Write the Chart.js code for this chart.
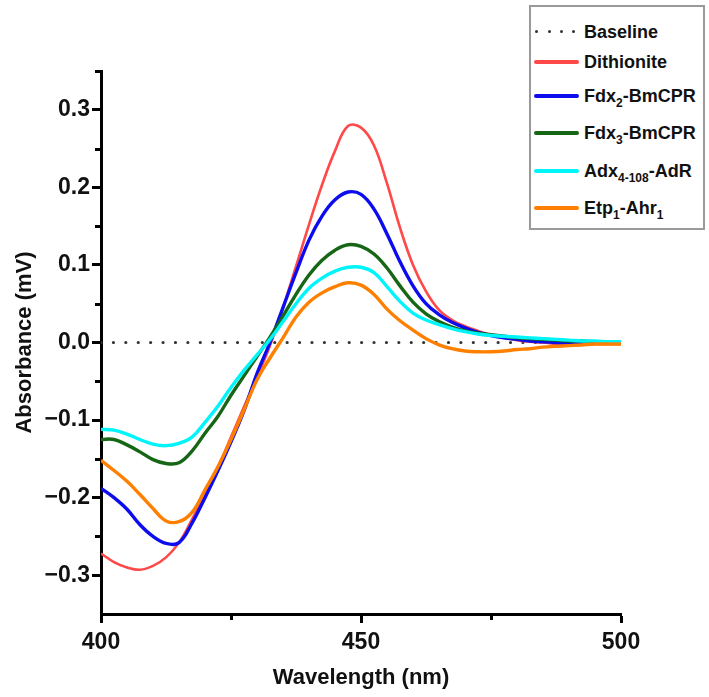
<!DOCTYPE html>
<html>
<head>
<meta charset="utf-8">
<script src="https://cdn.jsdelivr.net/npm/chart.js@4/dist/chart.umd.min.js"></script>
<style>
  html, body { margin: 0; padding: 0; background: #ffffff; }
  #wrap { position: relative; width: 709px; height: 697px; }
  #legend {
    position: absolute; left: 529px; top: 5px; width: 172px; height: 221px;
    border: 2px solid #9a9a9a; background: #ffffff;
    font-family: 'Liberation Sans', Arial, sans-serif; font-weight: bold; font-size: 18px; color: #111;
  }
  .row { position: absolute; left: 0; height: 24px; width: 172px; }
  .sample { position: absolute; left: 3px; top: 10px; width: 45px; height: 4px; border-radius: 2px; }
  .dots { position: absolute; left: 2px; top: 10px; width: 48px; height: 4px; }
  .dot { position: absolute; top: 0; width: 3px; height: 3px; border-radius: 50%; background: #333; }
  .txt { position: absolute; left: 53px; top: 2px; line-height: 20px; white-space: nowrap; }
  .txt sub { font-size: 12px; vertical-align: -5px; line-height: 0; }
</style>
</head>
<body>
<div id="wrap">
  <canvas id="c" width="709" height="697"></canvas>
  <div id="legend"></div>
</div>
<script>
// ---- data ----
const wavelengths = [400, 402.5, 405, 407.5, 410, 412.5, 415, 417.5, 420, 422.5, 425, 427.5, 430, 432.5, 435, 437.5, 440, 442.5, 445, 447.5, 450, 452.5, 455, 457.5, 460, 462.5, 465, 467.5, 470, 472.5, 475, 477.5, 480, 482.5, 485, 487.5, 490, 492.5, 495, 497.5, 500];

const dithionite = [-0.272, -0.283, -0.290, -0.293, -0.288, -0.277, -0.258, -0.228, -0.196, -0.161, -0.122, -0.083, -0.045, -0.004, 0.045, 0.098, 0.152, 0.203, 0.247, 0.279, 0.277, 0.254, 0.205, 0.148, 0.100, 0.066, 0.042, 0.029, 0.021, 0.015, 0.010, 0.006, 0.003, 0.001, 0.000, -0.002, -0.003, -0.003, -0.002, -0.002, -0.002];

const fdx2 = [-0.188, -0.200, -0.215, -0.235, -0.250, -0.259, -0.258, -0.233, -0.200, -0.165, -0.128, -0.088, -0.040, 0.000, 0.045, 0.090, 0.132, 0.163, 0.184, 0.194, 0.191, 0.172, 0.140, 0.104, 0.073, 0.050, 0.036, 0.026, 0.019, 0.013, 0.009, 0.006, 0.004, 0.002, 0.001, 0.000, -0.001, -0.001, 0.000, 0.000, 0.000];

const fdx3 = [-0.125, -0.125, -0.132, -0.141, -0.151, -0.156, -0.155, -0.140, -0.117, -0.095, -0.068, -0.043, -0.018, 0.007, 0.034, 0.062, 0.087, 0.106, 0.119, 0.126, 0.124, 0.114, 0.096, 0.073, 0.052, 0.037, 0.027, 0.020, 0.015, 0.012, 0.010, 0.008, 0.006, 0.005, 0.004, 0.003, 0.002, 0.002, 0.001, 0.001, 0.001];

const adx = [-0.112, -0.113, -0.118, -0.125, -0.131, -0.133, -0.130, -0.122, -0.103, -0.082, -0.058, -0.036, -0.016, 0.004, 0.027, 0.050, 0.070, 0.083, 0.092, 0.097, 0.097, 0.090, 0.072, 0.053, 0.038, 0.029, 0.023, 0.018, 0.014, 0.011, 0.009, 0.008, 0.007, 0.006, 0.005, 0.004, 0.003, 0.002, 0.002, 0.001, 0.001];

const etp = [-0.152, -0.165, -0.179, -0.196, -0.214, -0.230, -0.231, -0.219, -0.190, -0.160, -0.125, -0.087, -0.048, -0.020, 0.006, 0.033, 0.052, 0.064, 0.072, 0.077, 0.074, 0.062, 0.043, 0.028, 0.016, 0.005, -0.003, -0.008, -0.011, -0.012, -0.012, -0.011, -0.009, -0.008, -0.006, -0.005, -0.004, -0.003, -0.002, -0.002, -0.002];

const baselineX = [400, 500];
const baselineY = [0, 0];

const xTickValues = [400, 425, 450, 475, 500];
const xTickLabels = [400, 450, 500];
const yTickValues = [-0.35, -0.3, -0.25, -0.2, -0.15, -0.1, -0.05, 0, 0.05, 0.1, 0.15, 0.2, 0.25, 0.3, 0.35];
const yTickLabels = [-0.3, -0.2, -0.1, 0, 0.1, 0.2, 0.3];

const seriesNames = ['Baseline', 'Dithionite', 'Fdx2-BmCPR', 'Fdx3-BmCPR', 'Adx4-108-AdR', 'Etp1-Ahr1'];
const seriesNamesHtml = ['Baseline', 'Dithionite', 'Fdx<sub>2</sub>-BmCPR', 'Fdx<sub>3</sub>-BmCPR', 'Adx<sub>4-108</sub>-AdR', 'Etp<sub>1</sub>-Ahr<sub>1</sub>'];

// ---- styles ----
const colors = ['#333333', 'rgb(255,72,72)', 'rgb(12,12,238)', 'rgb(22,102,22)', 'rgb(0,245,250)', 'rgb(255,128,0)'];
const widths = [3.2, 2.6, 3.4, 3.4, 3.4, 3.4];
const legendRowCenters = [25, 55, 89, 126, 164, 201];

const isIn = (arr, v) => arr.some(a => Math.abs(a - v) < 1e-9);
const pairs = (xs, ys) => xs.map((x, i) => ({ x: x, y: ys[i] }));
const FONT = "'Liberation Sans', Arial, sans-serif";

const datasets = [
  { label: seriesNames[0], data: pairs(baselineX, baselineY), borderColor: colors[0], borderWidth: widths[0],
    borderDash: [0.01, 12.4], borderCapStyle: 'round', pointRadius: 0, tension: 0, order: 6 },
  { label: seriesNames[1], data: pairs(wavelengths, dithionite), borderColor: colors[1], borderWidth: widths[1], pointRadius: 0, tension: 0.4, order: 5 },
  { label: seriesNames[2], data: pairs(wavelengths, fdx2), borderColor: colors[2], borderWidth: widths[2], pointRadius: 0, tension: 0.4, order: 4 },
  { label: seriesNames[3], data: pairs(wavelengths, fdx3), borderColor: colors[3], borderWidth: widths[3], pointRadius: 0, tension: 0.4, order: 3 },
  { label: seriesNames[4], data: pairs(wavelengths, adx), borderColor: colors[4], borderWidth: widths[4], pointRadius: 0, tension: 0.4, order: 2 },
  { label: seriesNames[5], data: pairs(wavelengths, etp), borderColor: colors[5], borderWidth: widths[5], pointRadius: 0, tension: 0.4, order: 1 }
];

const minorTicks = {
  id: 'minorTicks',
  afterDraw(chart) {
    const ctx = chart.ctx;
    const xs = chart.scales.x, ys = chart.scales.y;
    ctx.save();
    ctx.strokeStyle = '#000';
    ctx.lineWidth = 3;
    ctx.beginPath();
    yTickValues.forEach(v => {
      if (isIn(yTickLabels, v) || v === yTickValues[0]) return;
      const py = Math.round(ys.getPixelForValue(v)) + 0.5;
      ctx.moveTo(ys.right, py); ctx.lineTo(ys.right - 6, py);
    });
    xTickValues.forEach(v => {
      if (isIn(xTickLabels, v)) return;
      const px = Math.round(xs.getPixelForValue(v)) + 0.5;
      ctx.moveTo(px, xs.top); ctx.lineTo(px, xs.top + 6);
    });
    ctx.stroke();
    ctx.restore();
  }
};

new Chart(document.getElementById('c'), {
  type: 'line',
  data: { datasets: datasets },
  options: {
    responsive: false, devicePixelRatio: 1, animation: false,
    layout: { padding: { left: 0, top: 71, right: 88, bottom: 0 } },
    plugins: { legend: { display: false }, tooltip: { enabled: false } },
    scales: {
      x: {
        type: 'linear', min: 400, max: 500,
        afterBuildTicks: s => { s.ticks = xTickValues.map(v => ({ value: v })); },
        afterFit: s => { s.height = 83; },
        ticks: { autoSkip: false, maxRotation: 0, padding: 6, color: '#111',
          font: { family: FONT, size: 23, weight: 'bold' },
          callback: v => isIn(xTickLabels, v) ? String(v) : '' },
        grid: { drawOnChartArea: false, tickLength: 9, tickWidth: 3,
          tickColor: c => (c.tick && isIn(xTickLabels, c.tick.value)) ? '#000' : 'rgba(0,0,0,0)' },
        border: { display: true, color: '#000', width: 3 },
        title: { display: true, text: 'Wavelength (nm)', color: '#111',
          font: { family: FONT, size: 22, weight: 'bold' }, padding: { top: 0, bottom: 6 } }
      },
      y: {
        type: 'linear', min: -0.35, max: 0.35,
        afterBuildTicks: s => { s.ticks = yTickValues.map(v => ({ value: v })); },
        afterFit: s => { s.width = 101; },
        ticks: { autoSkip: false, padding: 2, color: '#111',
          font: { family: FONT, size: 23, weight: 'bold' },
          callback: v => isIn(yTickLabels, v) ? ((v < -1e-9 ? '\u2212' : '') + Math.abs(v).toFixed(1)) : '' },
        grid: { drawOnChartArea: false, tickLength: 9, tickWidth: 3,
          tickColor: c => (c.tick && isIn(yTickLabels, c.tick.value)) ? '#000' : 'rgba(0,0,0,0)' },
        border: { display: true, color: '#000', width: 3 },
        title: { display: true, text: 'Absorbance (mV)', color: '#111',
          font: { family: FONT, size: 22, weight: 'bold' }, padding: { top: 12, bottom: 0 } }
      }
    }
  },
  plugins: [minorTicks]
});

// ---- HTML legend (needs real subscripts) ----
const legend = document.getElementById('legend');
datasets.forEach((ds, i) => {
  const row = document.createElement('div');
  row.className = 'row';
  row.style.top = (legendRowCenters[i] - 12) + 'px';
  if (i === 0) {
    const d = document.createElement('div');
    d.className = 'dots';
    [2, 15, 27, 39].forEach(x => {
      const dot = document.createElement('div');
      dot.className = 'dot'; dot.style.left = x + 'px'; dot.style.background = ds.borderColor;
      d.appendChild(dot);
    });
    row.appendChild(d);
  } else {
    const s = document.createElement('div');
    s.className = 'sample'; s.style.background = ds.borderColor;
    row.appendChild(s);
  }
  const t = document.createElement('div');
  t.className = 'txt'; t.innerHTML = seriesNamesHtml[i];
  row.appendChild(t);
  legend.appendChild(row);
});
</script>
</body>
</html>
